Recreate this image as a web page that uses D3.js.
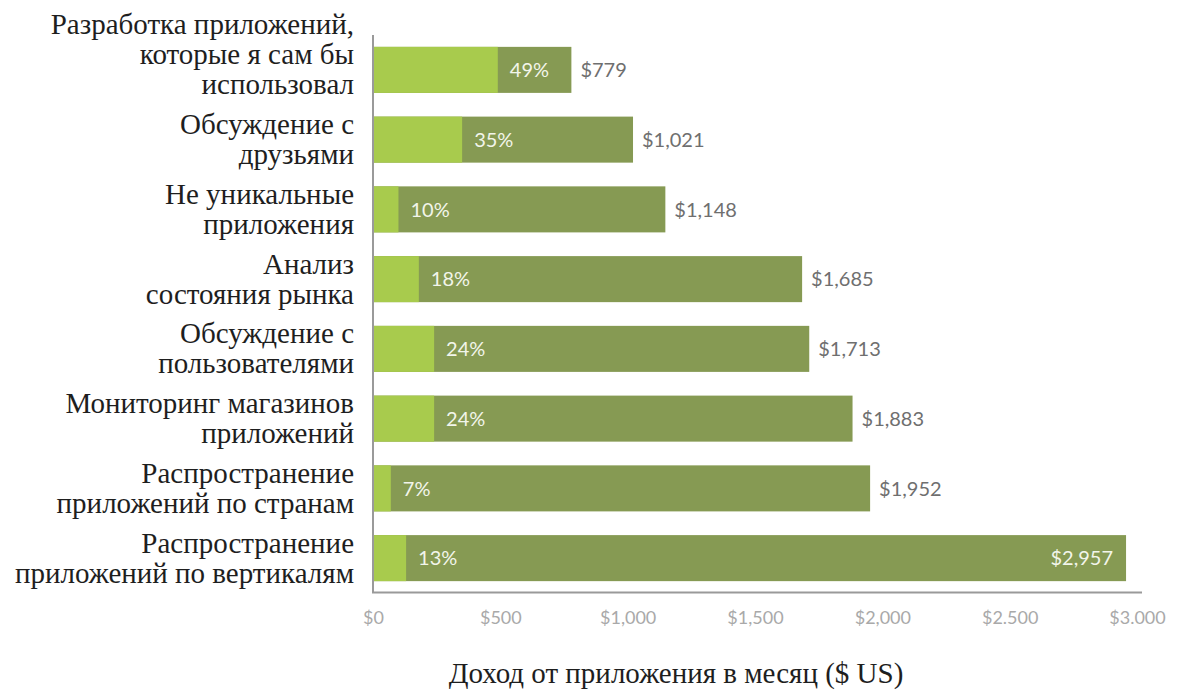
<!DOCTYPE html>
<html>
<head>
<meta charset="utf-8">
<script src="https://cdn.jsdelivr.net/npm/d3@7"></script>
</head>
<body style="margin:0;background:#ffffff">
<svg id="chart" width="1184" height="697"></svg>
<script>
// Categories (top to bottom), each split into lines for the label
const categories = [
  ["Разработка приложений,", "которые я сам бы", "использовал"],
  ["Обсуждение с", "друзьями"],
  ["Не уникальные", "приложения"],
  ["Анализ", "состояния рынка"],
  ["Обсуждение с", "пользователями"],
  ["Мониторинг магазинов", "приложений"],
  ["Распространение", "приложений по странам"],
  ["Распространение", "приложений по вертикалям"]
];
// Monthly revenue per app, USD
const revenue = [779, 1021, 1148, 1685, 1713, 1883, 1952, 2957];
// Share of developers, percent
const share = [49, 35, 10, 18, 24, 24, 7, 13];
// Tick values and their labels
const tickValues = [0, 500, 1000, 1500, 2000, 2500, 3000];
const tickLabels = ["$0", "$500", "$1,000", "$1,500", "$2,000", "$2.500", "$3.000"];
const axisTitle = "Доход от приложения в месяц ($ US)";

const SERIF = '"Liberation Serif"';
const SANS = 'Lato';

const svg = d3.select("#chart");
const plotLeft = 373, plotRight = 1137, plotTop = 35, plotBottom = 593;

const x = d3.scaleLinear().domain([0, 3000]).range([plotLeft, plotRight]);
// Share bar: 100% spans the same width as $1,000 on the revenue axis
const xs = d3.scaleLinear().domain([0, 100]).range([0, x(1000) - x(0)]);
const y = d3.scaleBand().domain(d3.range(categories.length))
  .range([plotTop, plotBottom]).paddingInner(0.34).paddingOuter(0.17);

const rows = categories.map((c, i) => ({ lines: c, rev: revenue[i], pct: share[i], i }));

const g = svg.append("g");

// dark segment: full revenue
g.selectAll("rect.rev").data(rows).join("rect")
  .attr("class", "rev")
  .attr("x", x(0) + 1)
  .attr("y", d => y(d.i))
  .attr("width", d => x(d.rev) - x(0) - 1)
  .attr("height", y.bandwidth())
  .attr("fill", "#869a53");

// light segment: share
g.selectAll("rect.pct").data(rows).join("rect")
  .attr("class", "pct")
  .attr("x", x(0) + 1)
  .attr("y", d => y(d.i))
  .attr("width", d => xs(d.pct) - 1)
  .attr("height", y.bandwidth())
  .attr("fill", "#a8cb4d");

// percentage labels
g.selectAll("text.pct").data(rows).join("text")
  .attr("class", "pct")
  .attr("x", d => x(0) + xs(d.pct) + 12)
  .attr("y", d => y(d.i) + y.bandwidth() / 2)
  .attr("dy", "0.36em")
  .style("font-family", SANS)
  .style("font-size", "20px")
  .attr("fill", "#f2f5ea")
  .text(d => d.pct + "%");

// revenue labels: outside the bar, or inside when the bar reaches the edge
const fmt = d3.format("$,");
g.selectAll("text.rev").data(rows).join("text")
  .attr("class", "rev")
  .attr("x", d => d.rev > 2500 ? x(d.rev) - 13 : x(d.rev) + 9)
  .attr("y", d => y(d.i) + y.bandwidth() / 2)
  .attr("dy", "0.36em")
  .attr("text-anchor", d => d.rev > 2500 ? "end" : "start")
  .style("font-family", SANS)
  .style("font-size", "20px")
  .attr("fill", d => d.rev > 2500 ? "#f2f5ea" : "#6f6f6f")
  .text(d => fmt(d.rev));

// axis lines
svg.append("line").attr("x1", plotLeft).attr("x2", plotLeft).attr("y1", 35).attr("y2", 592.5)
  .attr("stroke", "#9a9a9a").attr("stroke-width", 2);
svg.append("line").attr("x1", plotLeft - 1).attr("x2", 1142).attr("y1", 592.5).attr("y2", 592.5)
  .attr("stroke", "#9a9a9a").attr("stroke-width", 2);

// x tick labels
const xAxis = d3.axisBottom(x).tickValues(tickValues)
  .tickFormat((d, i) => tickLabels[i]).tickSize(0).tickPadding(18);
const ax = svg.append("g").attr("transform", `translate(0,${plotBottom})`).call(xAxis);
ax.select(".domain").remove();
ax.selectAll("text")
  .style("font-family", SANS)
  .style("font-size", "18px")
  .attr("fill", "#a9a9a9");

// category labels, one text element per line; the last line sits half a line below the bar centre
const lh = 30;
const labelLines = rows.flatMap(d => d.lines.map((line, k) => ({
  line,
  cy: y(d.i) + y.bandwidth() / 2 + lh / 2 - (d.lines.length - 1 - k) * lh
})));
svg.append("g").selectAll("text").data(labelLines).join("text")
  .attr("x", 354)
  .attr("y", d => d.cy)
  .attr("dy", "0.33em")
  .attr("text-anchor", "end")
  .style("font-family", SERIF)
  .style("font-size", "29px")
  .attr("fill", "#1e1e1e")
  .text(d => d.line);

// axis title
svg.append("text")
  .attr("x", 676).attr("y", 683)
  .attr("text-anchor", "middle")
  .style("font-family", SERIF)
  .style("font-size", "29px")
  .attr("fill", "#1e1e1e")
  .text(axisTitle);
</script>
</body>
</html>
